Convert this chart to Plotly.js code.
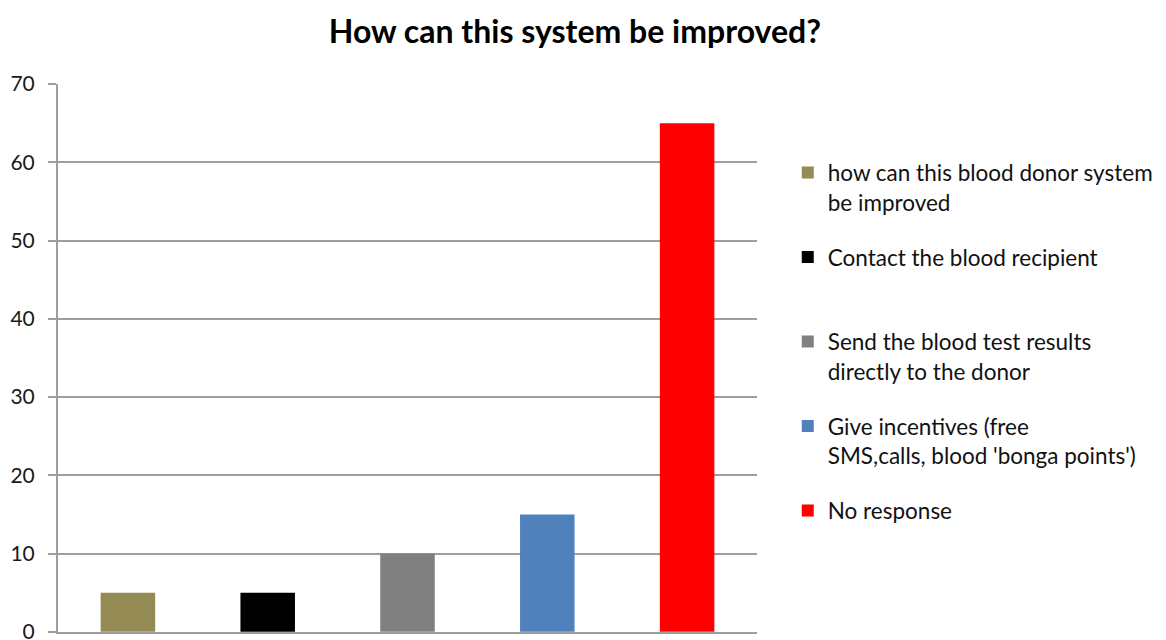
<!DOCTYPE html>
<html><head><meta charset="utf-8">
<script src="https://cdn.plot.ly/plotly-3.0.1.min.js"></script>
<style>html,body{margin:0;padding:0;background:#fff;}#chart{width:1166px;height:640px;}</style>
</head><body><div id="chart"></div>
<script>
const categories = ["how can this blood donor system be improved","Contact the blood recipient","Send the blood test results directly to the donor","Give incentives (free SMS,calls, blood 'bonga points')","No response"];
const legendLabels = ["how can this blood donor system<br>be improved","Contact the blood recipient<br> ","Send the blood test results<br>directly to the donor","Give incentives (free<br>SMS,calls, blood 'bonga points')","No response<br> "];
const values = [5, 5, 10, 15, 65];
const colors = ["#948A54", "#000000", "#808080", "#4F81BD", "#FF0000"];
const yTicks = [0, 10, 20, 30, 40, 50, 60, 70];

const FONT = "Lato, 'Open Sans', sans-serif";
const traces = categories.map((c, i) => ({
  type: 'bar', x: [c], y: [values[i]], name: legendLabels[i],
  legendgroup: 'g' + i,
  marker: {color: colors[i], line: {width: 0}}, width: 0.39
}));

const layout = {
  width: 1166, height: 640,
  margin: {l: 58, r: 406, t: 84, b: 8},
  paper_bgcolor: '#fff', plot_bgcolor: '#fff',
  barmode: 'overlay',
  title: {text: '<b>How can this system be improved?</b>', x: 0.493, xanchor: 'center', y: 0.951, yanchor: 'middle',
          font: {family: FONT, size: 32, color: '#000'}},
  xaxis: {type: 'category', categoryarray: categories, range: [-0.5, 4.5], showticklabels: false,
          showgrid: false, zeroline: false, showline: true, linecolor: '#9e9e9e', linewidth: 2, ticks: '', fixedrange: true},
  yaxis: {range: [-0.02, 70], tickvals: yTicks, ticktext: yTicks.map(String), showgrid: true, gridcolor: '#9e9e9e', gridwidth: 2,
          zeroline: false, showline: true, linecolor: '#9e9e9e', linewidth: 2, ticks: 'outside', ticklen: 8, tickwidth: 2,
          tickcolor: '#9e9e9e', ticklabelstandoff: 9, ticklabeloverflow: 'allow',
          tickfont: {family: FONT, size: 21, color: '#1a1a1a'}},
  showlegend: true,
  legend: {x: 1.044, xanchor: 'left', y: 0.877, yanchor: 'top', font: {family: FONT, size: 22.5, color: '#111'},
           tracegroupgap: 23, valign: 'top', bgcolor: 'rgba(0,0,0,0)'}
};
Plotly.newPlot('chart', traces, layout, {displayModeBar: false, staticPlot: true});
</script></body></html>
